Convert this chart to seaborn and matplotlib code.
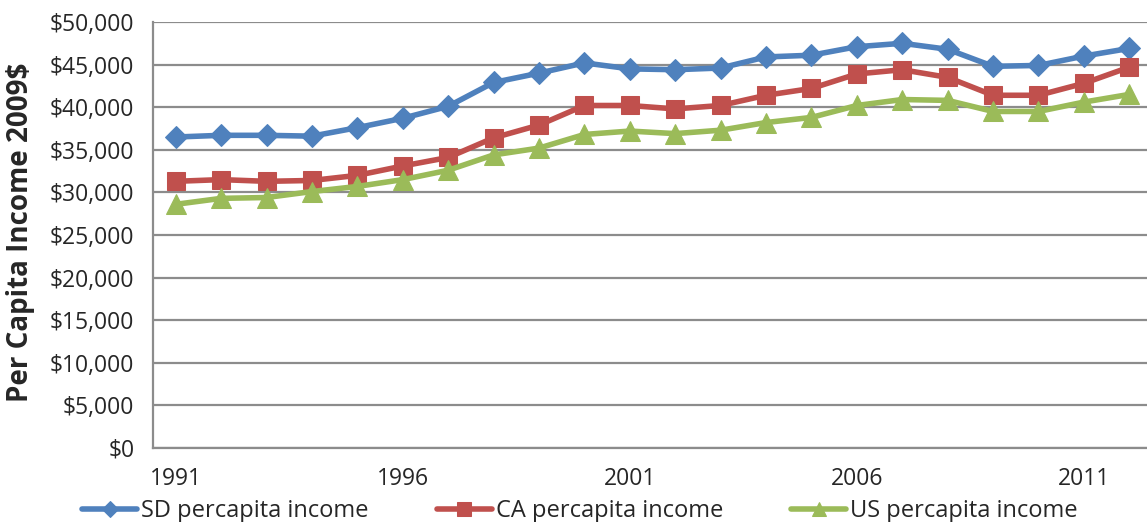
import numpy as np
import pandas as pd
import matplotlib
matplotlib.use("Agg")
import matplotlib.pyplot as plt
from matplotlib.ticker import FixedLocator, FuncFormatter
import seaborn as sns

years = list(range(1991, 2013))
sd_income = [36500, 36700, 36700, 36600, 37600, 38700, 40100, 42900, 44000, 45200,
             44500, 44400, 44600, 45900, 46100, 47100, 47500, 46800, 44800, 44900,
             46000, 46900]
ca_income = [31300, 31500, 31300, 31400, 32000, 33100, 34100, 36400, 37900, 40200,
             40200, 39800, 40200, 41400, 42200, 43900, 44400, 43500, 41400, 41400,
             42800, 44700]
us_income = [28600, 29300, 29400, 30100, 30700, 31500, 32600, 34400, 35200, 36800,
             37200, 36900, 37300, 38200, 38800, 40200, 40900, 40800, 39500, 39500,
             40600, 41500]
series_names = ["SD percapita income", "CA percapita income", "US percapita income"]
year_labels = [1991, 1996, 2001, 2006, 2011]

colors = ["#4F81BD", "#C0504D", "#9BBB59"]
markers = ["D", "s", "^"]
marker_sizes = [11.5, 13.5, 14.5]
grid_gray = "#8C8C8C"

sns.set_style("white")
plt.rcParams["font.family"] = ["Open Sans", "DejaVu Sans"]

df = pd.DataFrame({
    "year": years * 3,
    "income": sd_income + ca_income + us_income,
    "series": np.repeat(series_names, len(years)),
})

W, H = 1147, 522
fig = plt.figure(figsize=(W / 100, H / 100), dpi=100)
# the plot area runs a few pixels past the right edge of the canvas
ax = fig.add_axes([153 / W, 1 - 448 / H, (1152 - 153) / W, (448 - 22) / H])

for name, c, m, ms in zip(series_names, colors, markers, marker_sizes):
    sub = df[df["series"] == name]
    sns.lineplot(data=sub, x="year", y="income", ax=ax, color=c, linewidth=4,
                 marker=m, markersize=ms, markeredgecolor=c, label=name,
                 legend=False, zorder=3, clip_on=False)

ax.set_xlim(1990.5, 2012.5)
ax.set_ylim(0, 50000)
ax.set_yticks(np.arange(0, 50001, 5000))
ax.yaxis.set_major_formatter(FuncFormatter(lambda v, p: f"${int(v):,}"))
ax.yaxis.grid(True, color=grid_gray, linewidth=1.6, zorder=0)
ax.set_axisbelow(True)

ax.xaxis.set_major_locator(FixedLocator(year_labels))
ax.xaxis.set_minor_locator(FixedLocator(np.arange(1990.5, 2013, 1.0)))
ax.tick_params(axis="x", which="major", length=0, pad=14, labelsize=16.5)
ax.tick_params(axis="x", which="minor", length=5, width=1.6, color=grid_gray, direction="out")
ax.tick_params(axis="y", which="major", length=4.5, width=1.6, color=grid_gray,
               direction="out", labelsize=16.5, pad=9)

for s in ["top", "right"]:
    ax.spines[s].set_visible(False)
for s in ["left", "bottom"]:
    ax.spines[s].set_color(grid_gray)
    ax.spines[s].set_linewidth(1.6)

ax.set_xlabel("")
ax.set_ylabel("")
fig.text(21 / W, 1 - 232 / H, "Per Capita Income 2009$", rotation=90,
         ha="center", va="center", fontsize=20, fontweight="bold")

handles, labels = ax.get_legend_handles_labels()
leg = fig.legend(handles, labels, loc="center", bbox_to_anchor=(580 / W, 1 - 511 / H),
                 ncol=3, frameon=False, fontsize=17, handlelength=2.33,
                 handletextpad=0.15, columnspacing=2.9, markerscale=0.7,
                 borderpad=0, borderaxespad=0)

fig.savefig("out.png", dpi=100)
